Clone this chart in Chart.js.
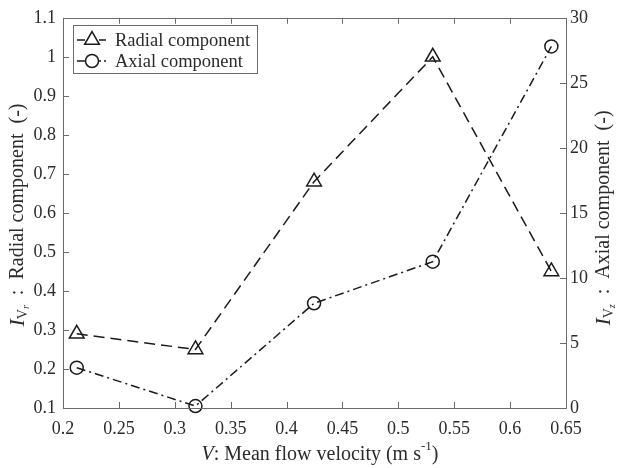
<!DOCTYPE html>
<html>
<head>
<meta charset="utf-8">
<script src="https://cdn.jsdelivr.net/npm/chart.js@4"></script>
<style>
  html, body { margin: 0; padding: 0; background: #fff; }
  canvas { display: block; }
</style>
</head>
<body>
<canvas id="grafica" width="617" height="468"></canvas>
<script>
// Velocidades medias (m/s) y las dos componentes de intensidad
const velocity = [0.2123, 0.3185, 0.4246, 0.5308, 0.6369];
const radial = [0.29, 0.25, 0.68, 1.0, 0.45];
const axial = [3.1, 0.15, 8.05, 11.25, 27.8];
const seriesNames = ['Radial component', 'Axial component'];

const AXIS = '#6b6b6b';
const TEXT = '#2b2b2b';
const INK = '#1a1a1a';
const SERIF = '"Liberation Serif", "Times New Roman", serif';

function fmt(v) {
    return String(+v.toFixed(2));
}

// Dibuja una linea de texto con trozos de distinta fuente y desplazamiento vertical
function drawRuns(ctx, runs, cx, cy) {
    let total = 0;
    runs.forEach(r => {
        ctx.font = r.font;
        r.w = ctx.measureText(r.t).width;
        total += r.w;
    });
    let x = cx - total / 2;
    runs.forEach(r => {
        ctx.font = r.font;
        ctx.fillText(r.t, x, cy + (r.dy || 0));
        x += r.w;
    });
}

const marcoYTitulos = {
    id: 'marcoYTitulos',
    afterDraw(chart) {
        const ctx = chart.ctx;
        const a = chart.chartArea;
        const sx = chart.scales.x, sy = chart.scales.y, sy1 = chart.scales.y1;
        ctx.save();
        ctx.strokeStyle = AXIS;
        ctx.lineWidth = 1;
        ctx.strokeRect(Math.round(a.left) + 0.5, Math.round(a.top) + 0.5,
            Math.round(a.right - a.left), Math.round(a.bottom - a.top));

        // marcas hacia dentro
        const tl = 6;
        ctx.beginPath();
        sx.ticks.forEach(t => {
            const px = Math.round(sx.getPixelForValue(t.value)) + 0.5;
            ctx.moveTo(px, a.bottom); ctx.lineTo(px, a.bottom - tl);
            ctx.moveTo(px, a.top); ctx.lineTo(px, a.top + tl);
        });
        sy.ticks.forEach(t => {
            const py = Math.round(sy.getPixelForValue(t.value)) + 0.5;
            ctx.moveTo(a.left, py); ctx.lineTo(a.left + tl, py);
        });
        sy1.ticks.forEach(t => {
            const py = Math.round(sy1.getPixelForValue(t.value)) + 0.5;
            ctx.moveTo(a.right, py); ctx.lineTo(a.right - tl, py);
        });
        ctx.stroke();

        // titulos de los ejes
        ctx.fillStyle = TEXT;
        ctx.textBaseline = 'middle';
        ctx.textAlign = 'left';
        drawRuns(ctx, [
            { t: 'V', font: 'italic 20px ' + SERIF },
            { t: ': Mean flow velocity (m s', font: '20px ' + SERIF },
            { t: '-1', font: '13px ' + SERIF, dy: -8 },
            { t: ')', font: '20px ' + SERIF }
        ], 320, 455);

        ctx.save();
        ctx.translate(18, 215);
        ctx.rotate(-Math.PI / 2);
        drawRuns(ctx, [
            { t: 'I', font: 'italic 22px ' + SERIF },
            { t: 'V', font: '14px ' + SERIF, dy: 5 },
            { t: 'r', font: 'italic 10px ' + SERIF, dy: 8 },
            { t: '  :  Radial component  (-)', font: '20px ' + SERIF }
        ], 0, 0);
        ctx.restore();

        ctx.save();
        ctx.translate(604, 218);
        ctx.rotate(-Math.PI / 2);
        drawRuns(ctx, [
            { t: 'I', font: 'italic 22px ' + SERIF },
            { t: 'V', font: '14px ' + SERIF, dy: 5 },
            { t: 'z', font: 'italic 10px ' + SERIF, dy: 8 },
            { t: '  :  Axial component  (-)', font: '20px ' + SERIF }
        ], 0, 0);
        ctx.restore();

        // leyenda con muestra de linea y marcador
        const lx = 73, ly = 25, lw = 184, lh = 48;
        ctx.fillStyle = '#fff';
        ctx.fillRect(lx, ly, lw, lh);
        ctx.strokeStyle = AXIS;
        ctx.strokeRect(lx + 0.5, ly + 0.5, lw, lh);
        chart.data.datasets.forEach((ds, i) => {
            const y = ly + 15 + i * 21;
            ctx.strokeStyle = INK;
            ctx.lineWidth = 1.5;
            ctx.setLineDash([]);
            ctx.beginPath();
            ctx.moveTo(lx + 4, y); ctx.lineTo(lx + 12, y);
            ctx.stroke();
            ctx.setLineDash(i === 1 ? [2, 3] : []);
            ctx.beginPath();
            ctx.moveTo(lx + 26, y); ctx.lineTo(lx + 33, y);
            ctx.stroke();
            ctx.setLineDash([]);
            ctx.fillStyle = 'rgba(0,0,0,0)';
            Chart.helpers.drawPoint(ctx, {
                pointStyle: ds.pointStyle, radius: ds.pointRadius,
                borderWidth: 1.5, rotation: 0
            }, lx + 19, y);
            ctx.fillStyle = TEXT;
            ctx.font = '18.5px ' + SERIF;
            ctx.textBaseline = 'middle';
            ctx.fillText(ds.label, lx + 42, y + 1);
        });
        ctx.restore();
    }
};

new Chart(document.getElementById('grafica'), {
    type: 'line',
    data: {
        datasets: [
            {
                label: seriesNames[0],
                data: velocity.map((v, i) => ({ x: v, y: radial[i] })),
                yAxisID: 'y',
                borderColor: INK,
                borderWidth: 1.5,
                borderDash: [11, 6],
                pointStyle: 'triangle',
                pointRadius: 8.5,
                pointBorderWidth: 1.5,
                pointBorderColor: INK,
                pointBackgroundColor: 'rgba(0,0,0,0)',
                tension: 0,
                fill: false,
                clip: false
            },
            {
                label: seriesNames[1],
                data: velocity.map((v, i) => ({ x: v, y: axial[i] })),
                yAxisID: 'y1',
                borderColor: INK,
                borderWidth: 1.5,
                borderDash: [9, 4, 2, 4],
                pointStyle: 'circle',
                pointRadius: 6.5,
                pointBorderWidth: 1.5,
                pointBorderColor: INK,
                pointBackgroundColor: 'rgba(0,0,0,0)',
                tension: 0,
                fill: false,
                clip: false
            }
        ]
    },
    options: {
        responsive: false,
        animation: false,
        layout: { padding: { top: 17, left: 0, right: 0, bottom: 0 } },
        plugins: { legend: { display: false }, tooltip: { enabled: false } },
        scales: {
            x: {
                type: 'linear',
                min: 0.2, max: 0.65,
                grid: { display: false, drawTicks: false },
                border: { display: false },
                ticks: {
                    stepSize: 0.05, padding: 10, color: TEXT,
                    font: { family: SERIF, size: 18 },
                    callback: fmt, maxRotation: 0
                },
                afterFit(s) { s.height = 60; }
            },
            y: {
                position: 'left',
                min: 0.1, max: 1.1,
                grid: { display: false, drawTicks: false },
                border: { display: false },
                ticks: {
                    stepSize: 0.1, padding: 7, color: TEXT,
                    font: { family: SERIF, size: 18 },
                    callback: fmt
                },
                afterFit(s) { s.width = 63; }
            },
            y1: {
                position: 'right',
                min: 0, max: 30,
                grid: { display: false, drawTicks: false },
                border: { display: false },
                ticks: {
                    stepSize: 5, padding: 4, color: TEXT,
                    font: { family: SERIF, size: 18 },
                    callback: fmt
                },
                afterFit(s) { s.width = 51; }
            }
        }
    },
    plugins: [marcoYTitulos]
});
</script>
</body>
</html>
